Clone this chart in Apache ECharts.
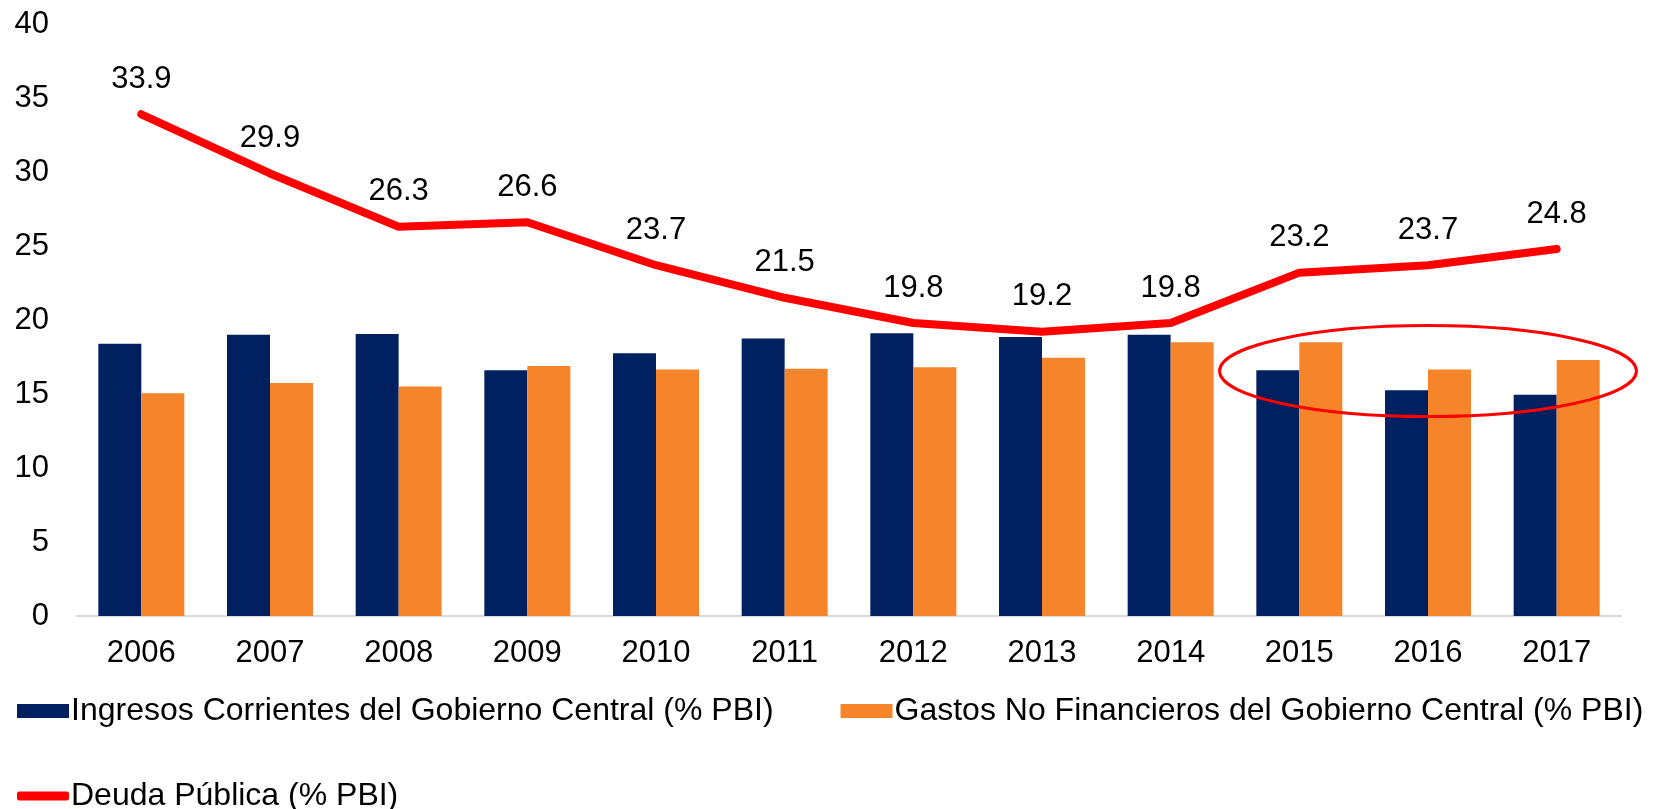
<!DOCTYPE html>
<html>
<head>
<meta charset="utf-8">
<style>
  html, body { margin: 0; padding: 0; background: #fff; }
  #chart { width: 1661px; height: 809px; }
</style>
<script src="https://cdn.jsdelivr.net/npm/echarts@6/dist/echarts.min.js"></script>
</head>
<body>
<div id="chart"></div>
<script>
// datos
const years = ['2006', '2007', '2008', '2009', '2010', '2011', '2012', '2013', '2014', '2015', '2016', '2017']
const ingresos = [18.4, 19.0, 19.05, 16.6, 17.75, 18.75, 19.1, 18.85, 19.0, 16.6, 15.25, 14.95]
const gastos = [15.05, 15.75, 15.5, 16.9, 16.65, 16.7, 16.8, 17.45, 18.5, 18.5, 16.65, 17.3]
const deuda = [33.9, 29.9, 26.3, 26.6, 23.7, 21.5, 19.8, 19.2, 19.8, 23.2, 23.7, 24.8]

const nombres = [
  'Ingresos Corrientes del Gobierno Central (% PBI)',
  'Gastos No Financieros del Gobierno Central (% PBI)',
  'Deuda Pública (% PBI)'
]

const FONT = "'Liberation Sans', Arial, sans-serif"

const chart = echarts.init(document.getElementById('chart'))

chart.setOption({
  animation: false,
  textStyle: { fontFamily: FONT },
  grid: { left: 77, right: 40, top: 24, bottom: 193 },
  legend: [
    {
      data: [nombres[0], nombres[1]],
      left: 12,
      top: 690,
      itemWidth: 52,
      itemHeight: 14,
      itemGap: 67,
      icon: 'rect',
      textStyle: { fontSize: 32, color: '#000', padding: [0, 0, 0, -3] }
    },
    {
      data: [nombres[2]],
      left: 12,
      top: 775,
      itemWidth: 52,
      itemHeight: 9,
      icon: 'roundRect',
      textStyle: { fontSize: 32, color: '#000', padding: [0, 0, 0, -3] }
    }
  ],
  xAxis: {
    type: 'category',
    data: years,
    axisLine: { lineStyle: { color: '#d9d9d9', width: 2 } },
    axisTick: { show: false },
    axisLabel: { fontSize: 31, color: '#000', margin: 22 }
  },
  yAxis: {
    type: 'value',
    min: 0,
    max: 40,
    interval: 5,
    splitLine: { show: false },
    axisLine: { show: false },
    axisTick: { show: false },
    axisLabel: { fontSize: 31, color: '#000', margin: 28 }
  },
  series: [
    {
      name: nombres[0],
      type: 'bar',
      data: ingresos,
      barWidth: 43,
      barGap: '0%',
      itemStyle: { color: '#00205f' }
    },
    {
      name: nombres[1],
      type: 'bar',
      data: gastos,
      barWidth: 43,
      barGap: '0%',
      itemStyle: { color: '#f5842a' }
    },
    {
      name: nombres[2],
      type: 'line',
      data: deuda,
      symbol: 'circle',
      symbolSize: 1,
      showSymbol: true,
      lineStyle: { color: '#ff0000', width: 8, cap: 'round', join: 'round' },
      itemStyle: { color: '#ff0000' },
      label: {
        show: true,
        position: 'top',
        distance: 19,
        fontSize: 31,
        color: '#000',
        formatter: p => p.value.toFixed(1)
      },
      z: 5
    }
  ]
})

// elipse que resalta 2015-2017
const centro = chart.convertToPixel({ gridIndex: 0 }, ['2016', 16.55])
const p15 = chart.convertToPixel({ gridIndex: 0 }, ['2015', 16.55])
const p17 = chart.convertToPixel({ gridIndex: 0 }, ['2017', 16.55])
const arriba = chart.convertToPixel({ gridIndex: 0 }, ['2016', 16.55 + 3.07])
const rx = (p17[0] - p15[0]) / 2 * 1.62
const ry = centro[1] - arriba[1]

chart.setOption({
  graphic: [{
    type: 'ellipse',
    shape: { cx: centro[0], cy: centro[1], rx: rx, ry: ry },
    style: { fill: null, stroke: '#ff0000', lineWidth: 3 },
    z: 10
  }]
})

window.addEventListener('resize', () => chart.resize())
</script>
</body>
</html>
